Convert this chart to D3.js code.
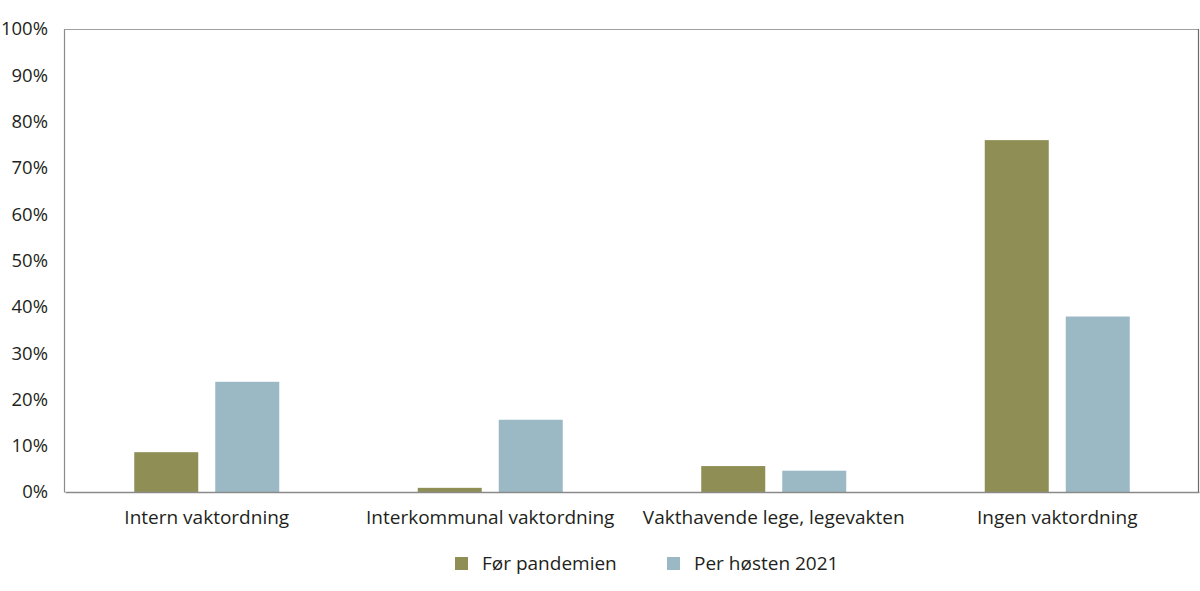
<!DOCTYPE html>
<html><head><meta charset="utf-8">
<script src="https://cdn.jsdelivr.net/npm/d3@7"></script>
<style>body{margin:0;background:#fff}svg{display:block}text{font-family:"Open Sans",sans-serif;fill:#231f20}</style>
</head><body>
<svg id="c" width="1200" height="591"></svg>
<script>
const categories = ["Intern vaktordning","Interkommunal vaktordning","Vakthavende lege, legevakten","Ingen vaktordning"];
const seriesNames = ["Før pandemien","Per høsten 2021"];
const forPandemien = [8.6, 0.9, 5.6, 76.0];
const perHosten2021 = [23.8, 15.6, 4.6, 37.9];
const yTicks = [0,10,20,30,40,50,60,70,80,90,100];
const colors = ["#8f8f55","#9bb8c5"];

const svg = d3.select("#c");
const L=64, R=1198, T=29, B=492;
const x = d3.scaleBand().domain(categories).range([L+1,R+1]);
const y = d3.scaleLinear().domain([0,100]).range([B,T]);
const series=[forPandemien, perHosten2021];
const barW=64, gap=17;

// frame
svg.append("line").attr("x1",L).attr("x2",R).attr("y1",T+0.5).attr("y2",T+0.5).attr("stroke","#a0a0a0").attr("stroke-width",1.2);
svg.append("line").attr("x1",R+0.5).attr("x2",R+0.5).attr("y1",T).attr("y2",B).attr("stroke","#6a6a6a").attr("stroke-width",1.2);

series.forEach((vals,si)=>{
  svg.append("g").selectAll("rect").data(vals).join("rect")
    .attr("x",(d,i)=>x(categories[i])+x.bandwidth()/2 + (si===0? -(barW+gap/2) : gap/2))
    .attr("width",barW)
    .attr("y",d=>y(d)).attr("height",d=>B-y(d))
    .attr("fill",colors[si]);
});

const yAxis = svg.append("g").attr("transform",`translate(${L},0)`)
  .call(d3.axisLeft(y).tickValues(yTicks).tickFormat(d=>d+"%").tickSize(0).tickPadding(16));
yAxis.select(".domain").attr("stroke","#8a8a8a").attr("stroke-width",1.2);
yAxis.selectAll("text").attr("font-size",18.5).attr("font-family","'Open Sans',sans-serif").attr("fill","#231f20");

const xAxis = svg.append("g").attr("transform",`translate(0,${B})`)
  .call(d3.axisBottom(x).tickSize(0).tickPadding(19));
xAxis.select(".domain").attr("stroke","#8a8a8a").attr("stroke-width",1.5);
xAxis.selectAll("text").attr("font-size",19).attr("font-family","'Open Sans',sans-serif").attr("fill","#231f20");

// legend
const lg = svg.append("g");
const lx=[455,667];
seriesNames.forEach((n,i)=>{
  lg.append("rect").attr("x",lx[i]).attr("y",557).attr("width",13).attr("height",13).attr("fill",colors[i]);
  lg.append("text").attr("x",lx[i]+27).attr("y",570).attr("font-size",19).text(n);
});
</script>
</body></html>
